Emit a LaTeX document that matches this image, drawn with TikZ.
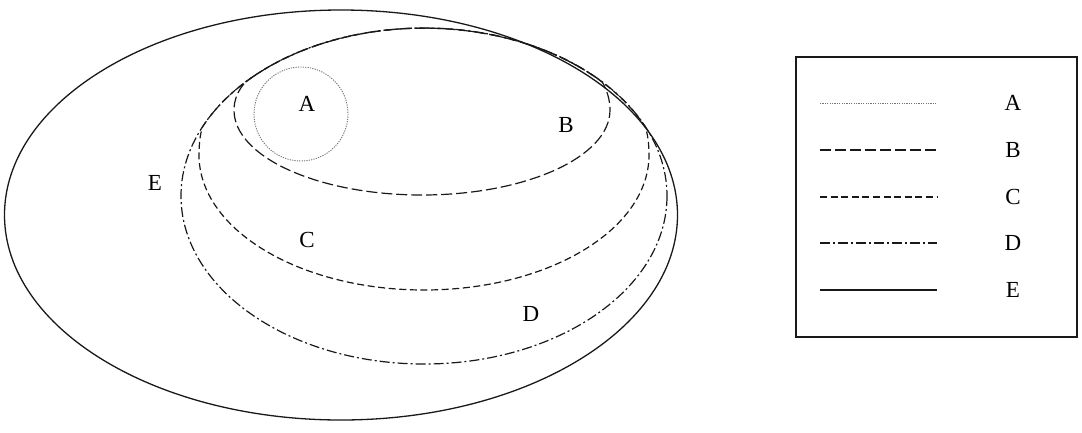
\documentclass[tikz,border=0pt]{standalone}
\usepackage{fontspec}
\setmainfont{Liberation Serif}
\begin{document}
\begin{tikzpicture}[x=1pt,y=-1pt,
  lbl/.style={font=\fontsize{23}{23}\selectfont, inner sep=0pt},
  sA/.style={draw=black!55, line width=0.9pt, dash pattern=on 1.2pt off 1.2pt},
  sB/.style={draw=black!90, line width=1.2pt, dash pattern=on 11pt off 4pt},
  sC/.style={draw=black!90, line width=1.2pt, dash pattern=on 7pt off 3.6pt},
  sD/.style={draw=black!90, line width=1.2pt, dash pattern=on 10pt off 3pt on 2pt off 3pt},
  sE/.style={draw=black!90, line width=1.3pt}]
\useasboundingbox (0,0) rectangle (1082,432);
% E
\path[sE] (341,215) ellipse [x radius=336.5, y radius=205];
% D
\path[sD] (424,196) ellipse [x radius=243, y radius=168];
% C (shares the top arc of D)
\path[sC] (202.4,127) arc[start angle=204.3, end angle=335.7, x radius=243, y radius=168]
  .. controls (648,135) and (649,145) .. (649,155)
  arc[start angle=0, end angle=180, x radius=225, y radius=135]
  .. controls (199,145) and (200,135) .. cycle;
% B (shares the top arc of D)
\path[sB] (245.6,82) arc[start angle=222.8, end angle=317.2, x radius=243, y radius=168]
  .. controls (607,90) and (610,100) .. (610,110)
  arc[start angle=0, end angle=180, x radius=188, y radius=85]
  .. controls (234,100) and (238,90) .. cycle;
% A
\path[sA] (301,114) circle [radius=47];
% labels
\node[lbl] (la) at (307,104) {A};
\node[lbl] (lb) at (566,125) {B};
\node[lbl] (lc) at (307,240) {C};
\node[lbl] (ld) at (531,314) {D};
\node[lbl] (le) at (155,183) {E};
% legend
\node[draw=black!90, line width=1.3pt, minimum width=281pt, minimum height=280pt, inner sep=0pt] (box) at (936.5,197) {};
\foreach \s/\t/\y in {sA/A/103, sB/B/150, sC/C/197, sD/D/243, sE/E/290}{
  \coordinate (k\t1) at (820,\y);
  \coordinate (k\t2) at (937,\y);
  \path[\s] (k\t1) -- (k\t2);
  \node[lbl] (key\t) at (1013,\y) {\t};
}
\end{tikzpicture}
\end{document}
